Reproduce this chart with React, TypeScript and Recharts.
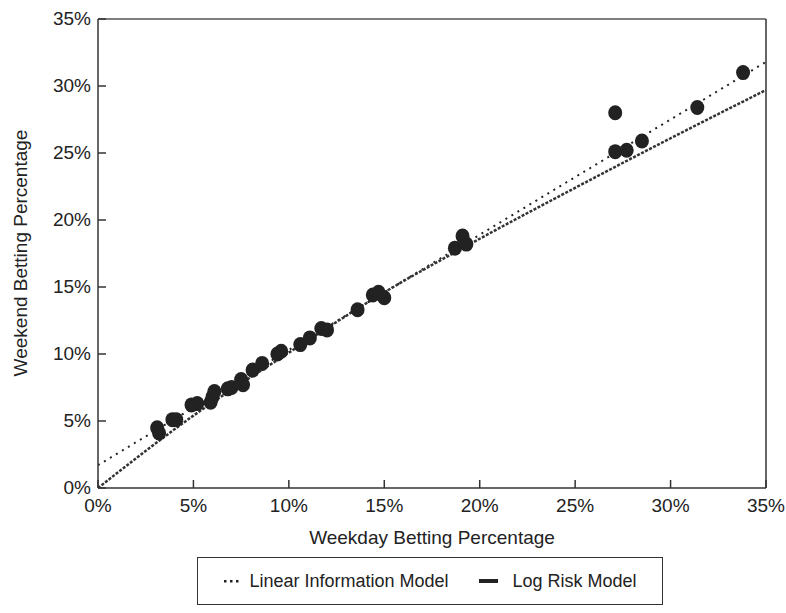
import React from 'react';
import { ComposedChart, Scatter, Line, XAxis, YAxis, ReferenceLine, Legend } from 'recharts';

const xTicks = [0, 5, 10, 15, 20, 25, 30, 35];
const yTicks = [0, 5, 10, 15, 20, 25, 30, 35];

const weekdayPct = [3.1, 3.2, 3.9, 4.1, 4.9, 5.2, 6.0, 6.1, 5.9, 6.8, 7.0, 7.5, 7.6, 8.1, 8.6, 9.4, 9.6, 10.6, 11.1, 11.7, 12.0, 13.6, 14.4, 14.7, 15.0, 18.7, 19.1, 19.3, 27.1, 27.1, 27.7, 28.5, 31.4, 33.8];
const weekendPct = [4.5, 4.1, 5.1, 5.1, 6.2, 6.3, 6.8, 7.2, 6.4, 7.4, 7.5, 8.1, 7.7, 8.8, 9.3, 10.0, 10.2, 10.7, 11.2, 11.9, 11.8, 13.3, 14.4, 14.6, 14.2, 17.9, 18.8, 18.2, 28.0, 25.1, 25.2, 25.9, 28.4, 31.0];

const linearX = [0, 35];
const linearY = [1.7, 31.8];

const logX = [0, 5, 10, 15, 20, 25, 30, 35];
const logY = [0, 5.4, 10.1, 14.6, 18.6, 22.4, 26.1, 29.7];

const scatterData = weekdayPct.map((x, i) => ({ x, y: weekendPct[i] }));
const linearData = linearX.map((x, i) => ({ x, y: linearY[i] }));
const logData = logX.map((x, i) => ({ x, y: logY[i] }));

const FONT = '"Liberation Sans", Arial, Helvetica, sans-serif';
const INK = '#222';
const AXIS = '#333';
const FS = 19;

const XTick = (props: any) => {
  const { x, y, payload } = props;
  return (
    <g>
      <line x1={x} x2={x} y1={y} y2={y - 8} stroke={AXIS} strokeWidth={1.5} />
      <text x={x} y={y + 17} textAnchor="middle" dominantBaseline="central" fontSize={FS} fontFamily={FONT} fill={INK}>
        {payload.value}%
      </text>
    </g>
  );
};

const YTick = (props: any) => {
  const { x, y, payload } = props;
  return (
    <g>
      <line x1={x} x2={x + 8} y1={y} y2={y} stroke={AXIS} strokeWidth={1.5} />
      <text x={x - 7} y={y - 1} textAnchor="end" dominantBaseline="central" fontSize={FS} fontFamily={FONT} fill={INK}>
        {payload.value}%
      </text>
    </g>
  );
};

const Blob = (props: any) => {
  const { cx, cy } = props;
  return <ellipse cx={cx} cy={cy} rx={7} ry={7.5} fill={INK} />;
};

const LegendContent = () => (
  <div
    style={{
      boxSizing: 'border-box',
      width: 466,
      height: 48,
      border: `1.5px solid ${AXIS}`,
      display: 'flex',
      alignItems: 'center',
      justifyContent: 'center',
      fontFamily: FONT,
      fontSize: 18,
      color: INK,
    }}
  >
    <svg width={18} height={10} style={{ marginRight: 8 }}>
      <rect x={1} y={4} width={2.5} height={2.5} fill={INK} />
      <rect x={7} y={4} width={2.5} height={2.5} fill={INK} />
      <rect x={13} y={4} width={2.5} height={2.5} fill={INK} />
    </svg>
    <span>Linear Information Model</span>
    <svg width={20} height={10} style={{ marginLeft: 30, marginRight: 14 }}>
      <rect x={0} y={3} width={19} height={4} fill={INK} />
    </svg>
    <span>Log Risk Model</span>
  </div>
);

export default function App() {
  return (
    <div style={{ boxSizing: 'border-box', width: 786, height: 613, padding: 8, background: '#fff' }}>
      <style>{`html, body { margin: 0; overflow: hidden; } .recharts-surface { overflow: visible !important; }`}</style>
      <ComposedChart width={770} height={597} margin={{ top: 11, right: 12, left: 0, bottom: 0 }}>
        <XAxis
          type="number"
          dataKey="x"
          domain={[0, 35]}
          ticks={xTicks}
          interval={0}
          tickLine={false}
          tickSize={0}
          tickMargin={0}
          tick={<XTick />}
          axisLine={{ stroke: AXIS, strokeWidth: 1.5 }}
          height={117}
          allowDataOverflow
          label={{
            content: () => (
              <text x={424} y={529} textAnchor="middle" dominantBaseline="central" fontSize={FS} fontFamily={FONT} fill={INK}>
                Weekday Betting Percentage
              </text>
            ),
          }}
        />
        <YAxis
          type="number"
          dataKey="y"
          domain={[0, 35]}
          ticks={yTicks}
          interval={0}
          tickLine={false}
          tickSize={0}
          tickMargin={0}
          tick={<YTick />}
          axisLine={{ stroke: AXIS, strokeWidth: 1.5 }}
          width={90}
          allowDataOverflow
          label={{
            content: () => (
              <text x={12} y={245} transform="rotate(-90, 12, 245)" textAnchor="middle" dominantBaseline="central" fontSize={FS} fontFamily={FONT} fill={INK}>
                Weekend Betting Percentage
              </text>
            ),
          }}
        />
        <ReferenceLine y={35} stroke="#555" strokeWidth={1.5} />
        <ReferenceLine x={35} stroke={AXIS} strokeWidth={1.5} />
        <Line data={linearData} dataKey="y" type="linear" dot={false} stroke={INK} strokeWidth={2} strokeDasharray="2 5" isAnimationActive={false} legendType="none" />
        <Line data={logData} dataKey="y" type="monotone" dot={false} stroke="#333" strokeWidth={2.5} strokeDasharray="3 1.5" isAnimationActive={false} legendType="none" />
        <Scatter data={scatterData} dataKey="y" shape={<Blob />} fill={INK} isAnimationActive={false} legendType="none" />
        <Legend
          layout="horizontal"
          verticalAlign="middle"
          align="center"
          content={<LegendContent />}
          wrapperStyle={{ position: 'absolute', left: 189, top: 549, width: 466, height: 48 }}
        />
      </ComposedChart>
    </div>
  );
}
